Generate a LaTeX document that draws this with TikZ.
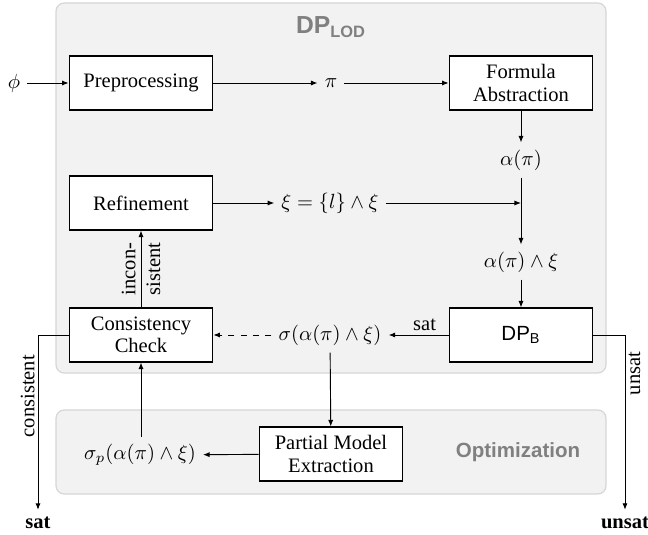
\documentclass[tikz,border=0pt]{standalone}
\usepackage{amsmath,amssymb}
\usepackage{fontspec}
\setmainfont{Liberation Serif}
\setsansfont{Liberation Sans}
\usepackage{tikz}
\usetikzlibrary{arrows.meta,positioning,calc}
\definecolor{areagray}{RGB}{242,242,242}
\definecolor{arealine}{RGB}{214,214,214}
\definecolor{titlegray}{RGB}{128,128,128}

\begin{document}
\begin{tikzpicture}[
    x=0.487pt, y=-0.487pt,
    block/.style={rectangle, draw, line width=0.5pt, align=center, minimum width=70pt, minimum height=26.3pt, fill=white},
    area/.style={rounded corners=4pt, fill=areagray, draw=arealine, line width=0.6pt},
    areatitle/.style={font=\sffamily\bfseries, text=titlegray},
    arrow/.style={-{Latex[length=3.2pt,width=2.5pt]}, line width=0.45pt},
    rotlabel/.style={rotate=90, inner sep=1.5pt}
  ]
    \useasboundingbox (0,0) rectangle (648,535);

    % shaded regions
    \draw[area] (56,3) rectangle (606,373);
    \draw[area] (56,410) rectangle (606,494);
    \node[areatitle, font=\sffamily\bfseries\large] (lodtitle) at (331,27) {DP\textsubscript{LOD}};
    \node[areatitle] (opttitle) at (518,452) {Optimization};

    % blocks
    \node[block] (pre) at (141,83) {Preprocessing};
    \node[block] (abs) at (521,83) {Formula\\[-1pt]Abstraction};
    \node[block] (ref) at (141,203) {Refinement};
    \node[block] (cc) at (141,335) {Consistency\\[-1pt]Check};
    \node[block, font=\sffamily] (dpb) at (521,335) {DP\textsubscript{B}};
    \node[block] (pme) at (331,454) {Partial Model\\[-1pt]Extraction};

    % formulas between the blocks
    \node (phi) at (14,83) {$\phi$};
    \node (pi) at (331,83) {$\pi$};
    \node (alpha) at (521,160) {$\alpha(\pi)$};
    \node (xi) at (330,203) {$\xi = \{l\} \land \xi$};
    \node (alphaxi) at (521,262) {$\alpha(\pi) \land \xi$};
    \node (sigma) at (330,335) {$\sigma(\alpha(\pi) \land \xi)$};
    \node (sigmap) at (140,455) {$\sigma_p(\alpha(\pi) \land \xi)$};

    % results
    \node[font=\bfseries] (satres) at (38,523) {sat};
    \node[font=\bfseries] (unsatres) at (625,523) {unsat};

    \draw[arrow] (phi) -- (pre);
    \draw[arrow] (pre) -- (pi);
    \draw[arrow] (pi) -- (abs);
    \draw[arrow] (abs) -- (alpha);
    \draw[arrow] (alpha) -- (alphaxi);
    \draw[arrow] (ref) -- (xi);
    \draw[arrow] (xi) -- (xi -| alpha);
    \draw[arrow] (alphaxi) -- (dpb);
    \draw[arrow] (dpb) -- node[pos=0.4, above, inner sep=2pt] {sat} (sigma);
    \draw[arrow, dashed] (sigma) -- (cc);
    \draw[arrow] (cc) -- node[rotlabel, align=center] {incon-\\sistent} (ref);
    \draw[arrow] (sigma) -- (pme);
    \draw[arrow] (pme) -- (sigmap);
    \draw[arrow] (cc.south |- sigmap.north) -- (cc);
    \draw[arrow] (cc.west) -| node[pos=0.675, rotlabel, anchor=south] {consistent} (satres.north);
    \draw[arrow] (dpb.east) -| node[pos=0.61, rotlabel, anchor=north] {unsat} (unsatres.north -| 625,0);
  \end{tikzpicture}
\end{document}
